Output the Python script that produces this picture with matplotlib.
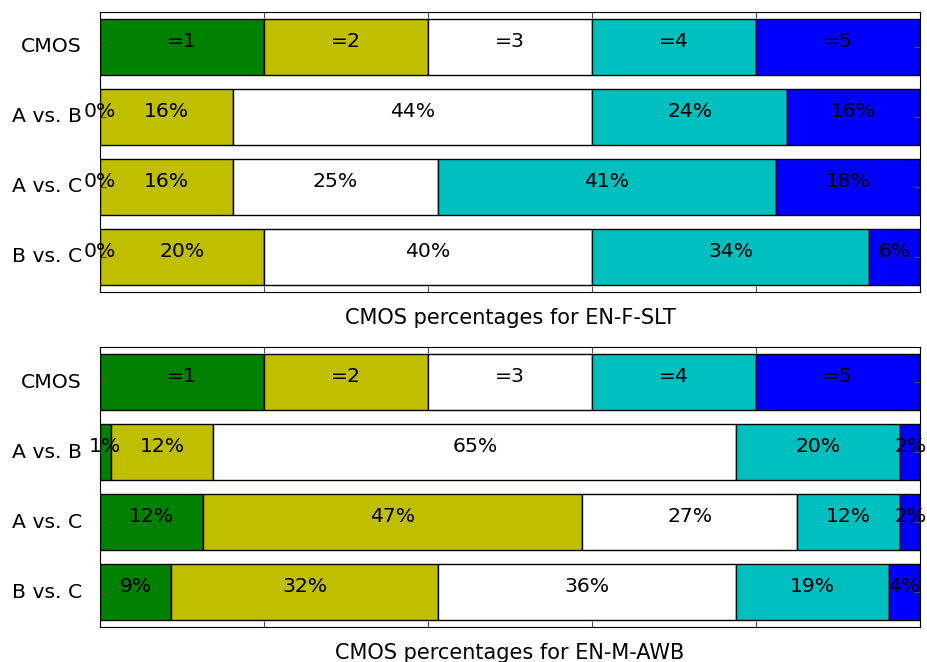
import numpy as np
import matplotlib.pyplot as plt

rows = ["CMOS", "A vs. B", "A vs. C", "B vs. C"]
colors = ["g", "y", "w", "c", "b"]
cmos_labels = ["=1", "=2", "=3", "=4", "=5"]
cmos_widths = [20, 20, 20, 20, 20]

# EN-F-SLT: bar widths (percent) and printed labels
slt_widths = [
    [0.0, 16.2, 43.8, 23.8, 16.2],
    [0.0, 16.2, 25.0, 41.2, 17.6],
    [0.0, 20.0, 40.0, 33.8, 6.2],
]
slt_labels = [
    [0, 16, 44, 24, 16],
    [0, 16, 25, 41, 18],
    [0, 20, 40, 34, 6],
]

# EN-M-AWB
awb_widths = [
    [1.3, 12.5, 63.8, 20.0, 2.4],
    [12.5, 46.3, 26.2, 12.6, 2.4],
    [8.7, 32.5, 36.3, 18.7, 3.8],
]
awb_labels = [
    [1, 12, 65, 20, 2],
    [12, 47, 27, 12, 2],
    [9, 32, 36, 19, 4],
]

titles = ["CMOS percentages for EN-F-SLT", "CMOS percentages for EN-M-AWB"]
fs = 14.7

fig = plt.figure(figsize=(9.27, 6.62), dpi=100)
ax1 = fig.add_axes([0.1079, 0.5594, 0.8846, 0.423])
ax2 = fig.add_axes([0.1079, 0.0524, 0.8846, 0.423])


def draw(ax, widths, labels, title):
    all_w = [cmos_widths] + widths
    all_l = [cmos_labels] + [[f"{v}%" for v in r] for r in labels]
    for i, (w, l) in enumerate(zip(all_w, all_l)):
        left = 0
        for j in range(5):
            ax.barh(i, w[j], left=left, height=0.8, color=colors[j],
                    edgecolor="black", linewidth=1)
            ax.text(left + w[j] / 2, i, l[j], ha="center", va="baseline",
                    fontsize=fs)
            left += w[j]
    ax.set_xlim(0, 100)
    ax.set_ylim(3.5, -0.5)
    ax.set_yticks(range(4))
    ax.set_yticklabels(rows, fontsize=fs, va="center")
    ax.set_xticks([0, 20, 40, 60, 80, 100])
    ax.set_xticklabels([])
    ax.tick_params(direction="in", top=True, right=True, length=4, color="0.3")
    ax.tick_params(axis="y", pad=13)
    ax.set_xlabel(title, fontsize=15, labelpad=8)


draw(ax1, slt_widths, slt_labels, titles[0])
draw(ax2, awb_widths, awb_labels, titles[1])

fig.savefig("out.png", dpi=100)
